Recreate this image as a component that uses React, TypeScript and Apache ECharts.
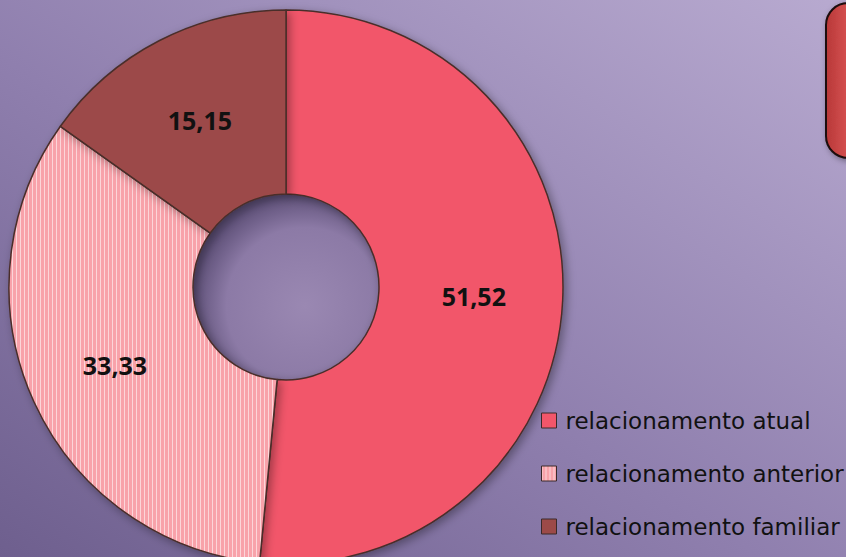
import React, { useEffect, useRef } from "react";
import * as echarts from "echarts";

const categories = ["relacionamento atual", "relacionamento anterior", "relacionamento familiar"];
const values = [51.52, 33.33, 15.15];
const colors = ["#f2566a", "#f8a2aa", "#9c4a48"];

function makeStripes(base: string) {
  const c = document.createElement("canvas");
  c.width = 4;
  c.height = 4;
  const ctx = c.getContext("2d")!;
  ctx.fillStyle = base;
  ctx.fillRect(0, 0, 4, 4);
  ctx.fillStyle = "rgba(255,255,255,0.55)";
  ctx.fillRect(0, 0, 1, 4);
  return c;
}

export default function App() {
  const ref = useRef<HTMLDivElement>(null);
  useEffect(() => {
    if (!ref.current) return;
    const chart = echarts.init(ref.current, null, { renderer: "svg" });
    const stripes = makeStripes(colors[1]);
    const data = categories.map((name, i) => ({
      name,
      value: values[i],
      itemStyle: {
        color: i === 1 ? { image: stripes, repeat: "repeat" } : colors[i],
      },
    }));
    chart.setOption({
      animation: false,
      backgroundColor: {
        type: "linear",
        x: 0,
        y: 1,
        x2: 1,
        y2: 0,
        colorStops: [
          { offset: 0, color: "#6e5f8e" },
          { offset: 0.45, color: "#8f7fae" },
          { offset: 1, color: "#b8aad0" },
        ],
      },
      graphic: [
        {
          type: "circle",
          z: -1,
          shape: { cx: 286, cy: 287, r: 93 },
          style: {
            fill: {
              type: "radial",
              x: 0.6,
              y: 0.6,
              r: 0.6,
              colorStops: [
                { offset: 0, color: "#9a88b2" },
                { offset: 0.7, color: "#8c7aa6" },
                { offset: 1, color: "#5e5078" },
              ],
            },
          },
        },
        {
          type: "rect",
          shape: { x: 826, y: 3, width: 60, height: 155, r: 22 },
          style: {
            fill: {
              type: "linear",
              x: 0,
              y: 0,
              x2: 1,
              y2: 0,
              colorStops: [
                { offset: 0, color: "#b83838" },
                { offset: 0.5, color: "#e05a5a" },
                { offset: 1, color: "#c84444" },
              ],
            },
            stroke: "#1a0a0a",
            lineWidth: 2,
            shadowBlur: 6,
            shadowColor: "rgba(0,0,0,0.4)",
            shadowOffsetX: 2,
            shadowOffsetY: 2,
          },
        },
      ],
      legend: {
        orient: "vertical",
        left: 541,
        top: 409,
        padding: 0,
        itemWidth: 15,
        itemHeight: 15,
        itemGap: 30,
        icon: "rect",
        textStyle: {
          fontFamily: "DejaVu Sans",
          fontSize: 23,
          lineHeight: 23,
          color: "#111111",
          padding: [0, 0, 0, 4],
        },
        itemStyle: { borderColor: "#3a2a2a", borderWidth: 1 },
        data: categories,
      },
      series: [
        {
          type: "pie",
          center: [286, 287],
          radius: [93, 277],
          startAngle: 90,
          clockwise: true,
          itemStyle: {
            borderColor: "#4a2e2a",
            borderWidth: 1.5,
            shadowBlur: 10,
            shadowColor: "rgba(0,0,0,0.35)",
            shadowOffsetX: 3,
            shadowOffsetY: 3,
          },
          label: {
            show: true,
            position: "inside",
            fontFamily: "Open Sans",
            fontWeight: "bold",
            fontSize: 25,
            color: "#111111",
            formatter: (p: any) => p.value.toFixed(2).replace(".", ","),
          },
          labelLine: { show: false },
          emphasis: { disabled: true },
          data,
        },
      ],
    });
    return () => chart.dispose();
  }, []);
  return <div ref={ref} style={{ position: "fixed", left: 0, top: 0, width: 846, height: 557 }} />;
}
